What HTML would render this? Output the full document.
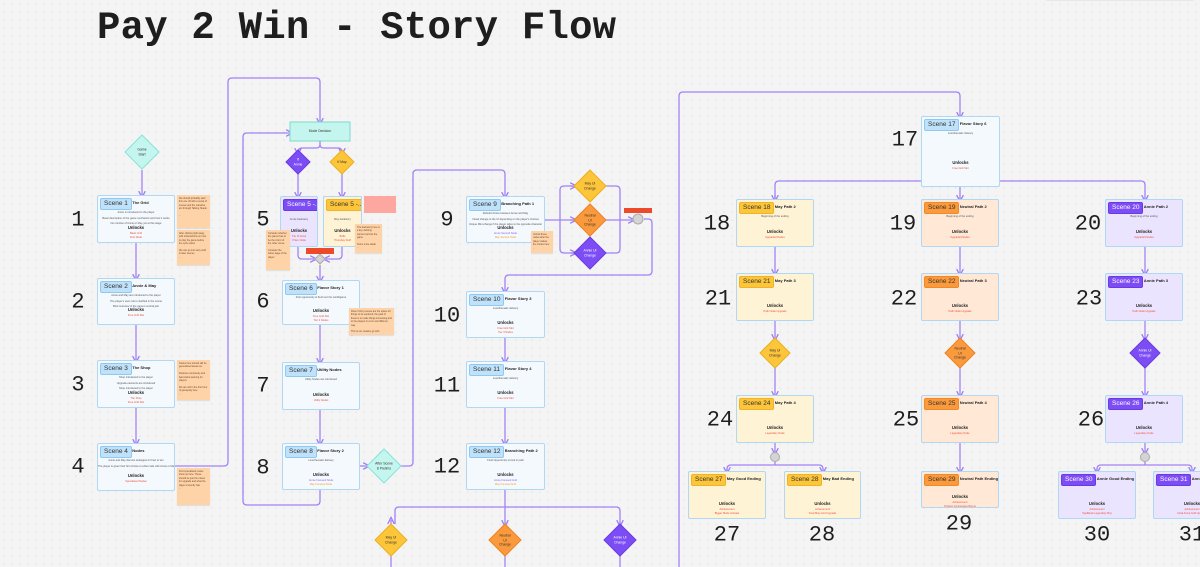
<!DOCTYPE html>
<html><head><meta charset="utf-8">
<style>
html,body{margin:0;padding:0}
body{width:1200px;height:567px;overflow:hidden;position:relative;background-color:#f4f4f4;
background-image:radial-gradient(#d9d9d9 0.7px,transparent 0.8px);background-size:8px 8px;font-family:"Liberation Sans",sans-serif}
.t{position:absolute;left:97px;top:6px;font-family:"Liberation Mono",monospace;font-size:39px;font-weight:bold;color:#1e1e1e;letter-spacing:0.2px}
.n{position:absolute;font-family:"Liberation Mono",monospace;font-size:22px;color:#1e1e1e;transform:translate(-50%,-50%)}
.b{position:absolute;border:1.5px solid #b0d7f4;border-radius:2px;background:#f4f9fe;box-sizing:border-box;overflow:hidden}
.p{position:absolute;left:2px;top:2px;height:10px;line-height:10px;font-size:6.5px;padding:0 3px;border-radius:2px;background:#bfe2fa;border:1px solid #8ec9f2;color:#333;white-space:nowrap}
.h{position:absolute;top:4px;font-size:4px;font-weight:bold;color:#222;white-space:nowrap}
.l{position:absolute;left:0;right:0;text-align:center;font-size:2.6px;color:#555;white-space:nowrap}
.u{position:absolute;left:0;right:0;text-align:center;font-size:4.2px;font-weight:bold;color:#222}
.r{position:absolute;left:0;right:0;text-align:center;font-size:2.6px;color:#f04b3a}
.s{position:absolute;background:#ffd3a8;box-shadow:0 1px 1px rgba(0,0,0,.1);font-size:2.4px;color:#6a4a30;padding:2px;box-sizing:border-box;line-height:3.4px}
.d{position:absolute;text-align:center;font-size:3.4px;line-height:4.5px;transform:translate(-50%,-50%);color:#333}
</style></head><body>
<div class="t">Pay 2 Win - Story Flow</div>
<div style="position:absolute;left:1045px;top:-4px;width:150px;height:5px;background:#e8e8e8;border-radius:3px"></div>
<svg width="1200" height="567" style="position:absolute;left:0;top:0" id="sv">
<defs><marker id="a" markerWidth="6" markerHeight="6" refX="3" refY="3" orient="auto"><path d="M0,0.5 L5,3 L0,5.5" fill="none" stroke="#9d7cf4" stroke-width="1"/></marker></defs>
<g fill="none" stroke="#a282f6" stroke-width="1.3" stroke-linejoin="round">
<path d="M142 170 V195" marker-end="url(#a)"/>
<path d="M136 243 V278" marker-end="url(#a)"/>
<path d="M136 325 V360" marker-end="url(#a)"/>
<path d="M136 408 V443" marker-end="url(#a)"/>
<path d="M175 466 H224 Q228 466 228 462 V82 Q228 78 232 78 H316 Q320 78 320 82 V122" marker-end="url(#a)"/>
<path d="M320 141 V145 Q320 148 316 148 H302 Q298 148 298 152" marker-end="url(#a)"/>
<path d="M320 145 Q320 148 324 148 H338 Q342 148 342 152" marker-end="url(#a)"/>
<path d="M298 174 V196" marker-end="url(#a)"/>
<path d="M342 174 V196" marker-end="url(#a)"/>
<path d="M298 247 V255 Q298 259 302 259 H314" marker-end="url(#a)"/>
<path d="M342 247 V255 Q342 259 338 259 H326" marker-end="url(#a)"/>
<path d="M320 265 V280" marker-end="url(#a)"/>
<path d="M320 325 V362" marker-end="url(#a)"/>
<path d="M320 410 V443" marker-end="url(#a)"/>
<path d="M320 490 V501 Q320 505 316 505 H247 Q243 505 243 501 V137 Q243 133 247 133 H290" marker-end="url(#a)"/>
<path d="M360 466 H367" marker-end="url(#a)"/>
<path d="M401 466 H409 Q413 466 413 462 V174 Q413 170 417 170 H501 Q505 170 505 174 V196" marker-end="url(#a)"/>
<path d="M545 220 H560 M560 220 V190 Q560 186 564 186 H574 M560 220 H574 M560 220 V249 Q560 253 564 253 H574"/>
<path d="M570 186 H574" marker-end="url(#a)"/><path d="M570 220 H574" marker-end="url(#a)"/><path d="M570 253 H574" marker-end="url(#a)"/>
<path d="M606 186 H616 Q620 186 620 190 V249 Q620 253 616 253 H606 M606 220 H632" marker-end="url(#a)"/>
<path d="M644 219 H648 Q652 219 652 223 V271 Q652 275 648 275 H509 Q505 275 505 279 V291" marker-end="url(#a)"/>
<path d="M505 338 V361" marker-end="url(#a)"/>
<path d="M505 408 V443" marker-end="url(#a)"/>
<path d="M505 490 V524" marker-end="url(#a)"/>
<path d="M395 524 V511 Q395 507 399 507 H616 Q620 507 620 511 V524" marker-end="url(#a)"/>
<path d="M391 524 V520" marker-end="url(#a)"/>
<path d="M391 556 V567 M505 556 V567 M620 556 V567"/>
<path d="M679 567 V96 Q679 92 683 92 H956 Q960 92 960 96 V116" marker-end="url(#a)"/>
<path d="M960 187 V199" marker-end="url(#a)"/>
<path d="M775 199 V185 Q775 181 779 181 H1141 Q1145 181 1145 185 V199" marker-end="url(#a)"/>
<path d="M775 195 V199" marker-end="url(#a)"/>
<path d="M775 247 V273" marker-end="url(#a)"/><path d="M960 247 V273" marker-end="url(#a)"/><path d="M1145 247 V273" marker-end="url(#a)"/>
<path d="M775 321 V338" marker-end="url(#a)"/><path d="M960 321 V338" marker-end="url(#a)"/><path d="M1145 321 V338" marker-end="url(#a)"/>
<path d="M775 368 V395" marker-end="url(#a)"/><path d="M960 368 V395" marker-end="url(#a)"/><path d="M1145 368 V395" marker-end="url(#a)"/>
<path d="M775 443 V452" marker-end="url(#a)"/><path d="M1145 443 V452" marker-end="url(#a)"/>
<path d="M960 443 V471" marker-end="url(#a)"/>
<path d="M727 471 V469 Q727 465 731 465 H819 Q823 465 823 469 V471" marker-end="url(#a)"/>
<path d="M727 469 V471" marker-end="url(#a)"/>
<path d="M775 462 V465"/><path d="M1145 462 V465"/>
<path d="M1097 471 V469 Q1097 465 1101 465 H1188 Q1192 465 1192 469 V471" marker-end="url(#a)"/>
<path d="M1097 469 V471" marker-end="url(#a)"/>
</g>
<g stroke-width="1">
<polygon points="142,135 159,152 142,169 125,152" fill="#c4f6ef" stroke="#86e3d8"/>
<rect x="290" y="122" width="60" height="19" fill="#c4f6ef" stroke="#7fd8ce"/>
<polygon points="298,150 310,162 298,174 286,162" fill="#7c4df5" stroke="#6a3be0"/>
<polygon points="342,150 354,162 342,174 330,162" fill="#fcc53a" stroke="#eab020"/>
<polygon points="320,254 325,259 320,264 315,259" fill="#d4d4d4" stroke="#aaa"/>
<polygon points="384,449 401,466 384,483 367,466" fill="#c4f6ef" stroke="#86e3d8"/>
<polygon points="590,170 606,186 590,202 574,186" fill="#fcc53a" stroke="#eab020"/>
<polygon points="590,204 606,220 590,236 574,220" fill="#fb9a3c" stroke="#ea8424"/>
<polygon points="590,237 606,253 590,269 574,253" fill="#7c4df5" stroke="#6a3be0"/>
<circle cx="638" cy="219" r="5" fill="#d4d4d4" stroke="#aaa"/>
<polygon points="391,524 407,540 391,556 375,540" fill="#fcc53a" stroke="#eab020"/>
<polygon points="505,524 521,540 505,556 489,540" fill="#fb9a3c" stroke="#ea8424"/>
<polygon points="620,524 636,540 620,556 604,540" fill="#7c4df5" stroke="#6a3be0"/>
<polygon points="775,338 790,353 775,368 760,353" fill="#fcc53a" stroke="#eab020"/>
<polygon points="960,338 975,353 960,368 945,353" fill="#fb9a3c" stroke="#ea8424"/>
<polygon points="1145,338 1160,353 1145,368 1130,353" fill="#7c4df5" stroke="#6a3be0"/>
<circle cx="775" cy="457" r="4.5" fill="#d4d4d4" stroke="#aaa"/>
<circle cx="1145" cy="457" r="4.5" fill="#d4d4d4" stroke="#aaa"/>
</g>
<rect x="306" y="248" width="28" height="6" fill="#ec4a2a"/>
<rect x="624" y="208" width="28" height="5" fill="#ec4a2a"/>
<rect x="364" y="196" width="32" height="17" fill="#fca8a0"/>
</svg>
<div class="d" style="left:142px;top:152px">Game<br>Start</div>
<div class="d" style="left:320px;top:131px">Mode Decision</div>
<div class="d" style="left:298px;top:162px;color:#fff">If<br>Annie</div>
<div class="d" style="left:342px;top:162px">If May</div>
<div class="d" style="left:384px;top:466px">After Scene<br>8 Prelims</div>
<div class="d" style="left:590px;top:186px">May UI<br>Change</div>
<div class="d" style="left:590px;top:220px">Neutral<br>UI<br>Change</div>
<div class="d" style="left:590px;top:253px;color:#fff">Annie UI<br>Change</div>
<div class="d" style="left:391px;top:540px">May UI<br>Change</div>
<div class="d" style="left:505px;top:540px">Neutral<br>UI<br>Change</div>
<div class="d" style="left:620px;top:540px;color:#fff">Annie UI<br>Change</div>
<div class="d" style="left:775px;top:353px">May UI<br>Change</div>
<div class="d" style="left:960px;top:353px">Neutral<br>UI<br>Change</div>
<div class="d" style="left:1145px;top:353px;color:#fff">Annie UI<br>Change</div>
<div id="root"></div>
<script>
var R=document.getElementById('root'),H='';
var C={b:['#f4f9fe','#bfe2fa','#8ec9f2','#333'],y:['#fff3d6','#fcc53a','#f0b228','#333'],o:['#ffe9d6','#fb9a3c','#ee8a2a','#333'],p:['#ebe4ff','#7c4df5','#6a3be0','#fff']};
function box(x,y,w,h,nm,title,c,lines,unl,uc){var k=C[c];
var s='<div class="b" style="left:'+x+'px;top:'+y+'px;width:'+w+'px;height:'+h+'px;background:'+k[0]+'">';
s+='<div class="p" style="background:'+k[1]+';border-color:'+k[2]+';color:'+k[3]+'">'+nm+'</div>';
s+='<div class="h" style="left:'+(nm.length*3.6+9)+'px">'+title+'</div>';
for(var i=0;i<lines.length;i++)s+='<div class="l" style="top:'+(15+i*5.5)+'px">'+lines[i]+'</div>';
var uy=Math.round(h*0.6);s+='<div class="u" style="top:'+uy+'px">Unlocks</div>';
for(i=0;i<unl.length;i++)s+='<div class="r" style="top:'+(uy+7+i*3.6)+'px;color:'+(uc&&uc[i]||'#f04b3a')+'">'+unl[i]+'</div>';
H+=s+'</div>';}
function num(x,y,t){H+='<div class="n" style="left:'+x+'px;top:'+y+'px">'+t+'</div>';}
function st(x,y,w,h,t,bg){H+='<div class="s" style="left:'+x+'px;top:'+y+'px;width:'+w+'px;height:'+h+'px;'+(bg?'background:'+bg:'')+'">'+t+'</div>';}
box(97,195,78,48,'Scene 1','The Grid','b',['Annie is introduced to the player','Basic description of the game mechanics and how it works','No mention of Annie or May yet at this stage'],['Basic Grid','First Node']);
box(97,278,78,47,'Scene 2','Annie &amp; May','b',['Annie and May are introduced to the player','The player\'s user role is clarified in the scene','Brief overview of the game\'s central plot'],['Free Grid Slot']);
box(97,360,78,48,'Scene 3','The Shop','b',['Shop introduced to the player','Upgrade elements are introduced','Shop introduced to the player'],['The Shop','Free Grid Slot']);
box(97,443,78,48,'Scene 4','Nodes','b',['Annie and May discuss strategies for how to win','The player is given their first choice to either side with Annie or May'],['Specialised Nodes']);
num(78,220,'1');num(78,302,'2');num(78,385,'3');num(78,467,'4');
st(177,195,33,33,'We should probably start this one off with a recap of scenes and the narrative arc through Talking Heads<br><br>...');
st(177,230,33,35,'After clicking right away, with initial actions on how to play the game before the cycle starts<br><br>We can go into story stuff in later scenes<br>...');
st(177,360,33,40,'Nodes here should still be generalised areas too.<br><br>Reduces complexity and fast-tracks learning for players<br><br>We are still in the first hour of gameplay here<br>...');
st(177,468,33,37,'First specialised nodes show up here. These should be just the mixed for upgrade and what the player currently has<br>...');
box(280,196,38,51,'Scene 5 -...','','p',['','Annie backstory'],['Tier III Annie','Prism Node']);
box(323,196,39,51,'Scene 5 -...','','y',['','May backstory'],['Buffs','Thursday Stuff']);
st(266,230,24,40,'Consider whether the parent has to be the mirror of the other scene<br><br>Consider the better page of the player<br>...');
st(355,224,27,29,'The backstory here is a key defining element across the game<br><br>Some more detail<br>...');
box(282,280,78,45,'Scene 6','Flavor Story 1','b',['First opportunity to flesh out the world/game'],['Free Grid Slot','Tier 2 Nodes']);
st(349,308,45,27,'Flavor Story scenes are the space for things to be explored; the goal of these is to make things interesting and to the players in a fun and different way<br><br>This is our creative go with<br>...');
box(282,362,78,48,'Scene 7','Utility Nodes','b',['Utility Nodes are introduced'],['Utility Nodes']);
box(282,443,78,47,'Scene 8','Flavor Story 2','b',['Lore/thematic delivery'],['Annie Focused Node','May Focused Node'],['#8b5cf6','#f0a020']);
num(263,220,'5');num(263,302,'6');num(263,386,'7');num(263,468,'8');
box(466,196,79,47,'Scene 9','Branching Path 1','b',['Rebuild choice between Annie and May','Visual change to the UI depending on the player\'s choices','Unique Mini-change if the player sides to the opposite character'],['Annie Second Node','May Second Node'],['#8b5cf6','#f0a020']);
st(531,231,22,22,'Unlock these nodes after the player makes the choice here<br>...');
box(466,291,79,47,'Scene 10','Flavor Story 3','b',['Lore/thematic delivery'],['Free Grid Slot','Tier 3 Nodes']);
box(466,361,79,47,'Scene 11','Flavor Story 4','b',['Lore/thematic delivery'],['Free Grid Slot']);
box(466,443,79,47,'Scene 12','Branching Path 2','b',['Final Opportunity to lock in path'],['Annie Focused Grid','May Focused Grid'],['#8b5cf6','#f0a020']);
num(447,220,'9');num(447,316,'10');num(447,386,'11');num(447,467,'12');
box(921,116,79,71,'Scene 17','Flavor Story 6','b',['Lore/thematic delivery'],['Free Grid Slot']);
num(905,140,'17');
var cols=[[736,'y','May Path','18','21','24',717],[921,'o','Neutral Path','19','22','25',903],[1105,'p','Annie Path','20','23','26',1088]];
cols.forEach(function(c){
box(c[0],199,78,48,'Scene '+c[3],c[2]+' 2',c[1],['Beginning of the ending'],['Upgraded Nodes']);
box(c[0],273,78,48,'Scene '+c[4],c[2]+' 3',c[1],[],['Path Node Upgrade']);
box(c[0],395,78,48,'Scene '+c[5],c[2]+' 4',c[1],[],['Legendary Node']);
num(c[6],224,c[3]);num(c[6]+1,299,c[4]);num(c[6]+3,420,c[5]);});
box(688,471,78,48,'Scene 27','May Good Ending','y',[],['Achievement','Bigger Mode Activate']);
box(784,471,77,48,'Scene 28','May Bad Ending','y',[],['Achievement','Final May Grid Upgrade']);
box(921,471,78,37,'Scene 29','Neutral Path Ending','o',[],['Achievement','Product Cooperative Bonus']);
box(1058,471,78,48,'Scene 30','Annie Good Ending','p',[],['Achievement','Spellbook Legendary Buy']);
box(1153,471,78,48,'Scene 31','Annie Bad Ending','p',[],['Achievement','Final Annie Grid Upgrade']);
num(727,535,'27');num(822,535,'28');num(959,524,'29');num(1097,535,'30');num(1192,535,'31');
R.innerHTML=H;
</script>
</body></html>
